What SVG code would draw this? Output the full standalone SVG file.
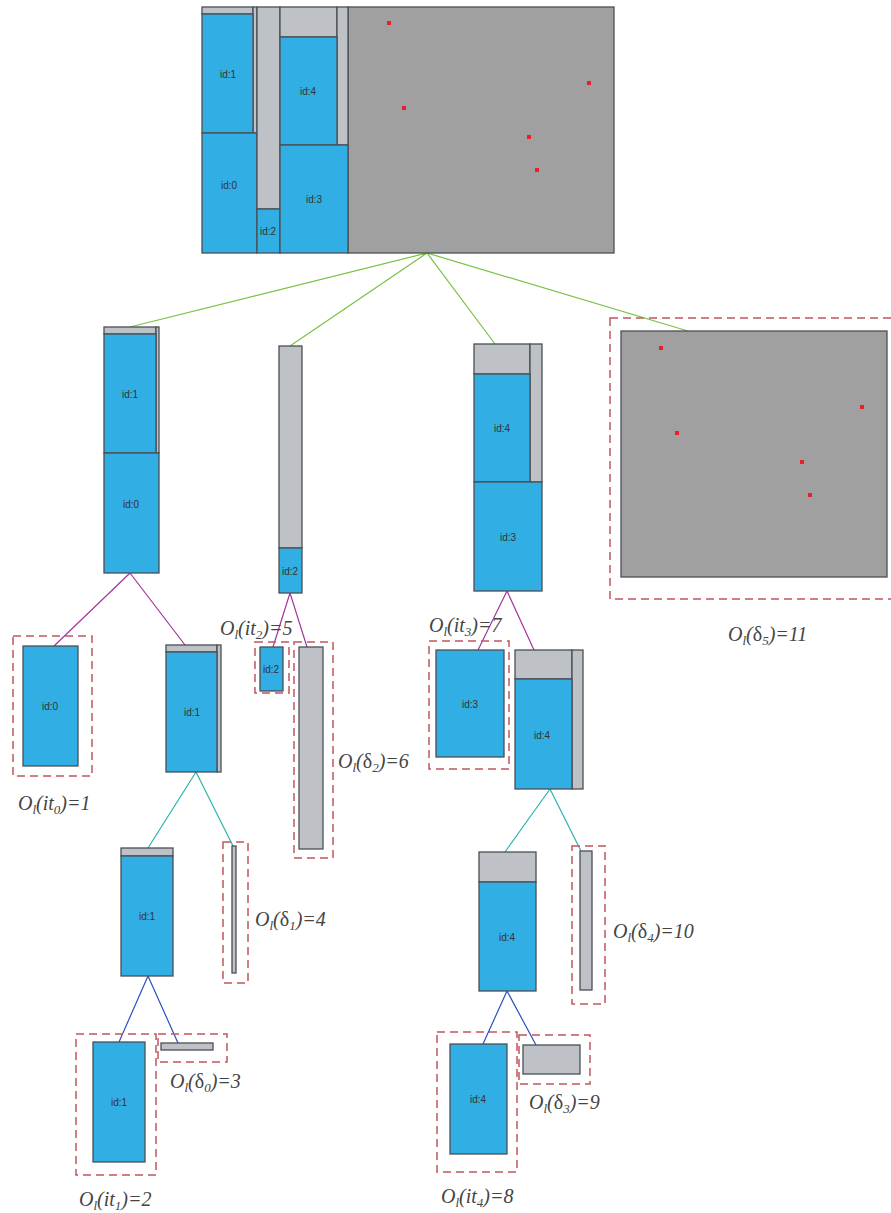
<svg xmlns="http://www.w3.org/2000/svg" width="891" height="1213" viewBox="0 0 891 1213">
<style>
.b{fill:#31aee3;stroke:#4a4f55;stroke-width:1.3}
.g{fill:#bec2c6;stroke:#4a4f55;stroke-width:1.3}
.dk{fill:#a0a0a0;stroke:#4a4f55;stroke-width:1.3}
.r{fill:#e8202a}
.d{fill:none;stroke:#c1565d;stroke-width:1.5;stroke-dasharray:8,5}
.id{font-family:"Liberation Sans",Arial,sans-serif;font-size:10px;fill:#333;text-anchor:middle;dominant-baseline:central}
.lbl{font-family:"Liberation Serif","Times New Roman",serif;font-style:italic;font-size:20px;fill:#444}
.s{font-size:13px}
.up{font-style:normal}
.c1{stroke:#7ac143;stroke-width:1.2;fill:none}
.c2{stroke:#a3359c;stroke-width:1.2;fill:none}
.c3{stroke:#2cb2b0;stroke-width:1.2;fill:none}
.c4{stroke:#2c4fc0;stroke-width:1.2;fill:none}
</style>
<g id="connectors">
<path class="c1" d="M427 253L130 327M427 253L290 346M427 253L495 344M427 253L688 331"/>
<path class="c2" d="M130 573L54 646M130 573L185 645M290 593L273 647M290 593L307 647M507 591L478 650M507 591L534 650"/>
<path class="c3" d="M196 772L148 848M196 772L233 846M550 789L505 852M550 789L581 851"/>
<path class="c4" d="M148 976L119 1042M148 976L178 1043M507 991L483 1044M507 991L536 1045"/>
</g>
<g id="root">
<rect class="dk" x="348" y="7" width="266" height="246"/>
<rect class="g" x="202" y="7" width="51" height="7"/>
<rect class="g" x="253" y="7" width="4" height="126"/>
<rect class="b" x="202" y="14" width="51" height="119"/>
<text class="id" x="228" y="74">id:1</text>
<rect class="b" x="202" y="133" width="55" height="120"/>
<text class="id" x="229" y="185">id:0</text>
<rect class="g" x="257" y="7" width="23" height="202"/>
<rect class="b" x="257" y="209" width="23" height="44"/>
<text class="id" x="268" y="231">id:2</text>
<rect class="g" x="280" y="7" width="57" height="30"/>
<rect class="g" x="337" y="7" width="11" height="138"/>
<rect class="b" x="280" y="37" width="57" height="108"/>
<text class="id" x="308" y="91">id:4</text>
<rect class="b" x="280" y="145" width="68" height="108"/>
<text class="id" x="314" y="199">id:3</text>
<rect class="r" x="387" y="21" width="4" height="4"/>
<rect class="r" x="402" y="106" width="4" height="4"/>
<rect class="r" x="587" y="81" width="4" height="4"/>
<rect class="r" x="527" y="135" width="4" height="4"/>
<rect class="r" x="535" y="168" width="4" height="4"/>
</g>
<g id="n1">
<rect class="g" x="104" y="327" width="52" height="7"/>
<rect class="g" x="156" y="327" width="3" height="126"/>
<rect class="b" x="104" y="334" width="52" height="119"/>
<text class="id" x="130" y="394">id:1</text>
<rect class="b" x="104" y="453" width="55" height="120"/>
<text class="id" x="131" y="504">id:0</text>
</g>
<g id="n2">
<rect class="g" x="279" y="346" width="23" height="202"/>
<rect class="b" x="279" y="548" width="23" height="45"/>
<text class="id" x="290" y="571">id:2</text>
</g>
<g id="n3">
<rect class="g" x="474" y="344" width="56" height="30"/>
<rect class="g" x="530" y="344" width="12" height="138"/>
<rect class="b" x="474" y="374" width="56" height="108"/>
<text class="id" x="502" y="428">id:4</text>
<rect class="b" x="474" y="482" width="68" height="109"/>
<text class="id" x="508" y="537">id:3</text>
</g>
<g id="n4">
<rect class="d" x="610" y="318" width="282" height="281"/>
<rect class="dk" x="621" y="331" width="266" height="246"/>
<rect class="r" x="659" y="346" width="4" height="4"/>
<rect class="r" x="675" y="431" width="4" height="4"/>
<rect class="r" x="860" y="405" width="4" height="4"/>
<rect class="r" x="800" y="460" width="4" height="4"/>
<rect class="r" x="808" y="493" width="4" height="4"/>
<text class="lbl" x="728" y="641">O<tspan class="s" dy="4">l</tspan><tspan dy="-4">(</tspan><tspan class="up">δ</tspan><tspan class="s" dy="4">5</tspan><tspan dy="-4">)=11</tspan></text>
</g>
<g id="n5">
<rect class="d" x="13" y="636" width="79" height="140"/>
<rect class="b" x="23" y="646" width="55" height="120"/>
<text class="id" x="50" y="706">id:0</text>
<text class="lbl" x="18" y="810">O<tspan class="s" dy="4">l</tspan><tspan dy="-4">(it</tspan><tspan class="s" dy="4">0</tspan><tspan dy="-4">)=1</tspan></text>
</g>
<g id="n6">
<rect class="g" x="166" y="645" width="51" height="7"/>
<rect class="g" x="217" y="645" width="4" height="127"/>
<rect class="b" x="166" y="652" width="51" height="120"/>
<text class="id" x="192" y="712">id:1</text>
</g>
<g id="n7">
<rect class="d" x="255" y="642" width="34" height="51"/>
<rect class="b" x="260" y="647" width="23" height="44"/>
<text class="id" x="271" y="669">id:2</text>
<text class="lbl" x="220" y="635">O<tspan class="s" dy="4">l</tspan><tspan dy="-4">(it</tspan><tspan class="s" dy="4">2</tspan><tspan dy="-4">)=5</tspan></text>
</g>
<g id="n8">
<rect class="d" x="294" y="642" width="39" height="216"/>
<rect class="g" x="299" y="647" width="24" height="202"/>
<text class="lbl" x="338" y="768">O<tspan class="s" dy="4">l</tspan><tspan dy="-4">(</tspan><tspan class="up">δ</tspan><tspan class="s" dy="4">2</tspan><tspan dy="-4">)=6</tspan></text>
</g>
<g id="n9">
<rect class="d" x="429" y="641" width="80" height="128"/>
<rect class="b" x="436" y="650" width="68" height="107"/>
<text class="id" x="470" y="704">id:3</text>
<text class="lbl" x="429" y="632">O<tspan class="s" dy="4">l</tspan><tspan dy="-4">(it</tspan><tspan class="s" dy="4">3</tspan><tspan dy="-4">)=7</tspan></text>
</g>
<g id="n10">
<rect class="g" x="515" y="650" width="57" height="29"/>
<rect class="g" x="572" y="650" width="11" height="139"/>
<rect class="b" x="515" y="679" width="57" height="110"/>
<text class="id" x="542" y="735">id:4</text>
</g>
<g id="n11">
<rect class="g" x="121" y="848" width="52" height="8"/>
<rect class="b" x="121" y="856" width="52" height="120"/>
<text class="id" x="147" y="916">id:1</text>
</g>
<g id="n12">
<rect class="d" x="223" y="842" width="25" height="141"/>
<rect class="g" x="232" y="846" width="4" height="127"/>
<text class="lbl" x="255" y="926">O<tspan class="s" dy="4">l</tspan><tspan dy="-4">(</tspan><tspan class="up">δ</tspan><tspan class="s" dy="4">1</tspan><tspan dy="-4">)=4</tspan></text>
</g>
<g id="n13">
<rect class="g" x="479" y="852" width="57" height="30"/>
<rect class="b" x="479" y="882" width="57" height="109"/>
<text class="id" x="507" y="937">id:4</text>
</g>
<g id="n14">
<rect class="d" x="572" y="846" width="33" height="158"/>
<rect class="g" x="580" y="851" width="12" height="139"/>
<text class="lbl" x="613" y="938">O<tspan class="s" dy="4">l</tspan><tspan dy="-4">(</tspan><tspan class="up">δ</tspan><tspan class="s" dy="4">4</tspan><tspan dy="-4">)=10</tspan></text>
</g>
<g id="n15">
<rect class="d" x="76" y="1034" width="80" height="141"/>
<rect class="b" x="93" y="1042" width="52" height="120"/>
<text class="id" x="119" y="1102">id:1</text>
<text class="lbl" x="79" y="1206">O<tspan class="s" dy="4">l</tspan><tspan dy="-4">(it</tspan><tspan class="s" dy="4">1</tspan><tspan dy="-4">)=2</tspan></text>
</g>
<g id="n16">
<rect class="d" x="158" y="1034" width="69" height="28"/>
<rect class="g" x="161" y="1043" width="52" height="7"/>
<text class="lbl" x="170" y="1088">O<tspan class="s" dy="4">l</tspan><tspan dy="-4">(</tspan><tspan class="up">δ</tspan><tspan class="s" dy="4">0</tspan><tspan dy="-4">)=3</tspan></text>
</g>
<g id="n17">
<rect class="d" x="437" y="1032" width="80" height="140"/>
<rect class="b" x="450" y="1044" width="57" height="110"/>
<text class="id" x="478" y="1099">id:4</text>
<text class="lbl" x="441" y="1203">O<tspan class="s" dy="4">l</tspan><tspan dy="-4">(it</tspan><tspan class="s" dy="4">4</tspan><tspan dy="-4">)=8</tspan></text>
</g>
<g id="n18">
<rect class="d" x="519" y="1035" width="71" height="49"/>
<rect class="g" x="523" y="1045" width="57" height="29"/>
<text class="lbl" x="529" y="1109">O<tspan class="s" dy="4">l</tspan><tspan dy="-4">(</tspan><tspan class="up">δ</tspan><tspan class="s" dy="4">3</tspan><tspan dy="-4">)=9</tspan></text>
</g>
</svg>
